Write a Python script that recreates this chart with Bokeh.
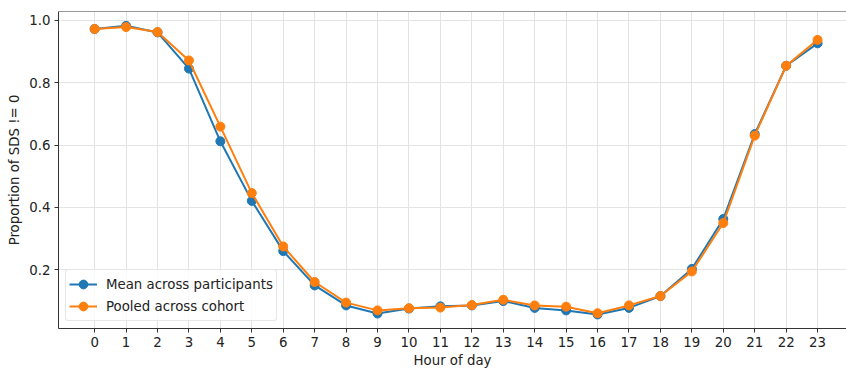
from bokeh.plotting import figure
from bokeh.models import Range1d, FixedTicker, PrintfTickFormatter, Span, Legend, LegendItem
from bokeh.embed import file_html
from bokeh.resources import INLINE

# Hour-of-day profile of the proportion of non-zero SDS
hours = list(range(24))
mean_participants = [0.972, 0.982, 0.961, 0.845, 0.612, 0.421, 0.260, 0.150,
                     0.086, 0.060, 0.076, 0.083, 0.086, 0.100, 0.078, 0.070,
                     0.057, 0.078, 0.116, 0.203, 0.363, 0.635, 0.854, 0.926]
pooled_cohort = [0.972, 0.978, 0.962, 0.871, 0.659, 0.446, 0.275, 0.161,
                 0.095, 0.070, 0.077, 0.079, 0.087, 0.104, 0.086, 0.082,
                 0.061, 0.086, 0.116, 0.195, 0.350, 0.630, 0.854, 0.937]
y_ticks = [0.2, 0.4, 0.6, 0.8, 1.0]

BLUE = "#1f77b4"
ORANGE = "#ff7f0e"
FONT = "DejaVu Sans"
AXIS_COLOR = "#333333"

p = figure(width=846, height=370, output_backend="svg", toolbar_location=None,
           x_range=Range1d(-1.15, 23.92), y_range=Range1d(0.012, 1.028),
           min_border_left=58, min_border_right=0, min_border_top=11,
           min_border_bottom=42)
p.outline_line_color = None
p.background_fill_color = "white"
p.border_fill_color = "white"

# grid
p.xgrid.grid_line_color = "#e3e3e3"
p.ygrid.grid_line_color = "#e3e3e3"
p.xgrid.grid_line_width = 1
p.ygrid.grid_line_width = 1

# axes
p.xaxis.ticker = FixedTicker(ticks=hours)
p.yaxis.ticker = FixedTicker(ticks=y_ticks)
p.yaxis.formatter = PrintfTickFormatter(format="%.1f")
p.xaxis.axis_label = "Hour of day"
p.yaxis.axis_label = "Proportion of SDS != 0"
for ax in (p.xaxis[0], p.yaxis[0]):
    ax.axis_line_color = AXIS_COLOR
    ax.axis_line_width = 1
    ax.major_tick_line_color = AXIS_COLOR
    ax.major_tick_in = 0
    ax.major_tick_out = 4
    ax.minor_tick_line_color = None
    ax.major_label_text_font = FONT
    ax.major_label_text_font_size = "10pt"
    ax.major_label_text_color = "#222222"
    ax.axis_label_text_font = FONT
    ax.axis_label_text_font_size = "10pt"
    ax.axis_label_text_font_style = "normal"
    ax.axis_label_text_color = "#222222"
    ax.major_label_standoff = 4
p.xaxis.axis_label_standoff = 3
p.yaxis.axis_label_standoff = 4

# top border of the axes box
p.add_layout(Span(location=1.028, dimension="width", line_color=AXIS_COLOR, line_width=1))

# series
l1 = p.line(hours, mean_participants, line_color=BLUE, line_width=2)
s1 = p.scatter(hours, mean_participants, size=9, fill_color=BLUE, line_color=BLUE)
l2 = p.line(hours, pooled_cohort, line_color=ORANGE, line_width=2)
s2 = p.scatter(hours, pooled_cohort, size=9, fill_color=ORANGE, line_color=ORANGE)

legend = Legend(items=[
    LegendItem(label="Mean across participants", renderers=[l1, s1]),
    LegendItem(label="Pooled across cohort", renderers=[l2, s2]),
], location="bottom_left")
legend.label_text_font = FONT
legend.label_text_font_size = "10pt"
legend.label_text_color = "#222222"
legend.glyph_width = 28
legend.glyph_height = 22
legend.label_height = 22
legend.spacing = -2
legend.padding = 3
legend.margin = 7
legend.label_standoff = 9
legend.border_line_color = "#d0d0d0"
legend.border_line_width = 1
legend.border_radius = 3
legend.background_fill_color = "white"
legend.background_fill_alpha = 0.8
p.add_layout(legend)

open("out.html", "w").write(file_html(p, INLINE))
